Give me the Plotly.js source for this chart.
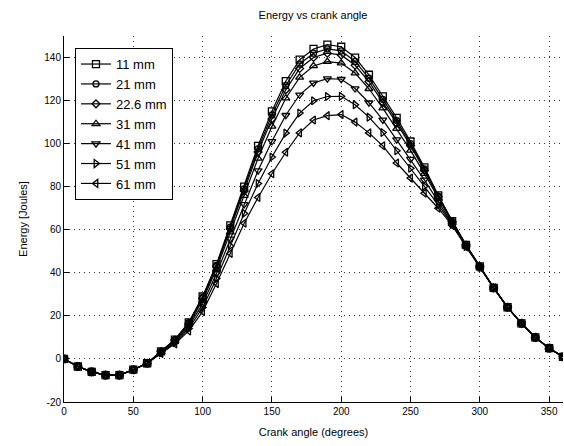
<!DOCTYPE html>
<html>
<head>
<meta charset="utf-8">
<script src="https://cdn.plot.ly/plotly-3.0.1.min.js"></script>
<style>html,body{margin:0;padding:0;background:#fff;}#chart{width:564px;height:446px;}</style>
</head>
<body>
<div id="chart"></div>
<script>
const crankAngle = [0,10,20,30,40,50,60,70,80,90,100,110,120,130,140,150,160,170,180,190,200,210,220,230,240,250,260,270,280,290,300,310,320,330,340,350,360];

const e11mm   = [0,-3.5,-6,-7.5,-7.5,-5,-2,3.5,9,17,29,44,62,80,99,115,129,139,144,146,145,140,132,122,112,101,89,76,64,53,43,33,24,16.5,10,5,1];
const e21mm   = [0,-3.5,-6,-7.5,-7.5,-5,-2,3.4,8.9,16.8,28.6,43.5,61.2,79,97.6,113.3,127,137,142,144,143.1,138.2,130.4,120.6,110.7,100,88.3,75.6,63.9,52.9,43,33,24,16.5,10,5,1];
const e22_6mm = [0,-3.5,-6,-7.5,-7.5,-5,-2,3.4,8.8,16.5,28.2,42.9,60.4,78,96.1,111.5,125,134.9,140,142,141.2,136.4,128.8,119.2,109.5,99,87.6,75.3,63.8,52.9,42.9,33,24,16.5,10,5,1];
const e31mm   = [0,-3.5,-6,-7.5,-7.5,-5,-2,3.3,8.5,16,27.3,41.8,58.9,75.9,93.2,108,121.1,130.8,136.1,138.1,137.4,132.8,125.5,116.5,107,96.9,86.1,74.6,63.5,52.8,42.9,33,24,16.5,10,5,1];
const e41mm   = [0,-3.5,-6,-7.5,-7.5,-5,-2,3,8,15.1,25.6,39.7,55.8,71.8,87.5,101.1,113.2,122.7,128.2,130.2,129.9,125.6,119,111,101.9,92.8,83.2,73.1,63,52.5,42.8,33,24,16.5,10,5,1];
const e51mm   = [0,-3.5,-6,-7.5,-7.5,-5,-2,2.8,7.5,14.1,23.9,37.4,52.5,67.6,81.5,93.8,104.9,114.2,119.9,121.9,122,118.1,112.3,105.2,96.7,88.6,80.2,71.6,62.5,52.3,42.6,33,24,16.5,10,5,1];
const e61mm   = [0,-3.5,-6,-7.5,-7.5,-5,-2,2.5,7,13,22,35,49,63,75,86,96,105,111,113,113.5,110,105,99,91,84,77,70,62,52,42.5,33,24,16.5,10,5,1];

const seriesNames = ["11 mm","21 mm","22.6 mm","31 mm","41 mm","51 mm","61 mm"];
const seriesData = [e11mm,e21mm,e22_6mm,e31mm,e41mm,e51mm,e61mm];
const symbols = ["square-open","circle-open","diamond-open","triangle-up-open","triangle-down-open","triangle-right-open","triangle-left-open"];
const sizes = [7,6,6,7,7,7,7];

const xTicks = [0,50,100,150,200,250,300,350];
const yTicks = [-20,0,20,40,60,80,100,120,140];

const traces = seriesData.map((ys,i)=>({
  x: crankAngle, y: ys, name: seriesNames[i], type: 'scatter', mode: 'lines+markers',
  line: {color:'#000', width:1.2},
  marker: {symbol: symbols[i], size: sizes[i], color:'#000', line:{width:1.3,color:'#000'}}
}));

const font = {family: 'Liberation Sans, Arial, sans-serif', color: '#000'};
const layout = {
  width: 564, height: 446,
  margin: {l:64, r:1, t:36, b:44},
  paper_bgcolor:'#fff', plot_bgcolor:'#fff',
  showlegend: true,
  title: {text:'Energy vs crank angle', font:{...font, size:11}, x:0.555, xanchor:'center', y:0.965, yanchor:'middle'},
  xaxis: {
    range:[0,360], tickvals:xTicks, ticktext:xTicks.map(String),
    ticks:'inside', ticklen:5, tickcolor:'#000', showline:true, linecolor:'#000', linewidth:1,
    showgrid:true, gridcolor:'#333', griddash:'1px,4px', gridwidth:1, zeroline:false,
    tickfont:{...font, size:10},
    title:{text:'Crank angle (degrees)', font:{...font, size:11}, standoff:12}
  },
  yaxis: {
    range:[-20,150], tickvals:yTicks, ticktext:yTicks.map(String),
    ticks:'inside', ticklen:5, tickcolor:'#000', showline:true, linecolor:'#000', linewidth:1,
    showgrid:true, gridcolor:'#333', griddash:'1px,4px', gridwidth:1, zeroline:false,
    tickfont:{...font, size:10},
    title:{text:'Energy [Joules]', font:{...font, size:11}, standoff:14}
  },
  legend: {
    x:0.022, y:0.967, xanchor:'left', yanchor:'top',
    bgcolor:'#fff', bordercolor:'#000', borderwidth:1,
    font:{...font, size:13}, tracegroupgap:0
  }
};
Plotly.newPlot('chart', traces, layout, {staticPlot:true, displayModeBar:false});
</script>
</body>
</html>
